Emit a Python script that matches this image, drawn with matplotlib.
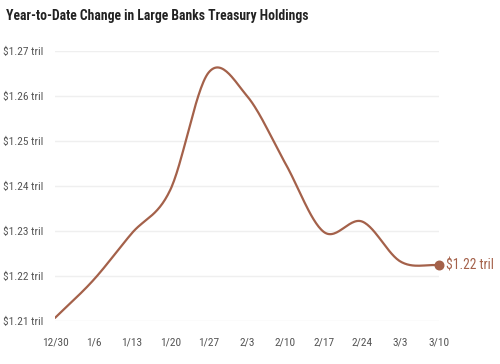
import matplotlib
matplotlib.use("Agg")
import matplotlib.pyplot as plt
import numpy as np
from matplotlib import font_manager

# weekly values, trillions of dollars
dates = ["12/30", "1/6", "1/13", "1/20", "1/27", "2/3", "2/10", "2/17", "2/24", "3/3", "3/10"]
holdings = [1.2107, 1.2191, 1.2295, 1.2391, 1.2652, 1.2600, 1.2450, 1.2298, 1.2321, 1.2232, 1.2224]
y_ticks = [1.21, 1.22, 1.23, 1.24, 1.25, 1.26, 1.27]

LINE = "#a4614a"
TEXT = "#555555"


def pick_font(names):
    installed = {f.name for f in font_manager.fontManager.ttflist}
    for n in names:
        if n in installed:
            return n
    return "DejaVu Sans"


FONT = pick_font(["Liberation Sans Narrow", "Roboto Condensed", "Roboto", "DejaVu Sans"])
plt.rcParams["font.family"] = [FONT, "DejaVu Sans"]


def catmull_rom(x, y, steps=30):
    """Smooth path through the points (cardinal spline, tension 0)."""
    x = np.asarray(x, float)
    y = np.asarray(y, float)
    n = len(x)
    m = np.zeros(n)
    m[1:-1] = (y[2:] - y[:-2]) / (x[2:] - x[:-2])
    m[0] = (y[1] - y[0]) / (x[1] - x[0])
    m[-1] = (y[-1] - y[-2]) / (x[-1] - x[-2])
    xs, ys = [], []
    for i in range(n - 1):
        h = x[i + 1] - x[i]
        t = np.linspace(0, 1, steps, endpoint=(i == n - 2))
        h00 = 2 * t**3 - 3 * t**2 + 1
        h10 = t**3 - 2 * t**2 + t
        h01 = -2 * t**3 + 3 * t**2
        h11 = t**3 - t**2
        xs.append(x[i] + t * h)
        ys.append(h00 * y[i] + h10 * h * m[i] + h01 * y[i + 1] + h11 * h * m[i + 1])
    return np.concatenate(xs), np.concatenate(ys)


fig = plt.figure(figsize=(5, 3.64), dpi=100)
ax = fig.add_axes([0.11, 0.118, 0.768, 0.742])

xpos = np.arange(len(dates))
sx, sy = catmull_rom(xpos, holdings)
ax.plot(sx, sy, color=LINE, lw=1.6, solid_capstyle="round", zorder=3)
ax.scatter([xpos[-1]], [holdings[-1]], s=38, color=LINE, zorder=4, clip_on=False)
ax.annotate(f"${holdings[-1]:.2f} tril", (xpos[-1], holdings[-1]),
            xytext=(5, 0), textcoords="offset points", va="center", ha="left",
            color=LINE, fontsize=9.8, annotation_clip=False)

ax.set_xlim(xpos[0], xpos[-1])
ax.set_ylim(y_ticks[0], y_ticks[-1])
ax.set_xticks(xpos)
ax.set_xticklabels(dates)
ax.set_yticks(y_ticks)
ax.set_yticklabels([f"${v:.2f} tril" for v in y_ticks])

ax.grid(axis="y", color="#efefef", lw=1)
ax.set_axisbelow(True)
for s in ax.spines.values():
    s.set_visible(False)
ax.tick_params(axis="both", length=0, colors=TEXT, labelsize=8.2)
ax.tick_params(axis="x", pad=12)
ax.tick_params(axis="y", pad=37.5)
for lab in ax.get_yticklabels():
    lab.set_horizontalalignment("left")

fig.text(0.012, 0.955, "Year-to-Date Change in Large Banks Treasury Holdings",
         fontsize=9.8, fontweight="bold", color="#222222", va="center", ha="left")

fig.savefig("out.png", dpi=100)
